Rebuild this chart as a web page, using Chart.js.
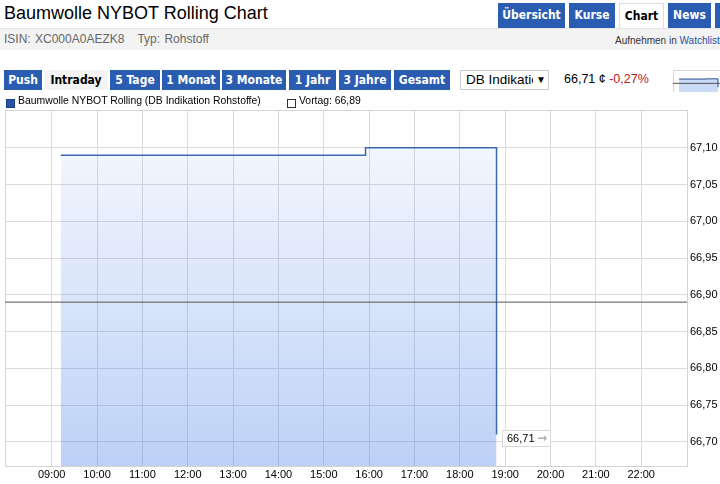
<!DOCTYPE html>
<html>
<head>
<meta charset="utf-8">
<script src="https://cdn.jsdelivr.net/npm/chart.js@4.4.0/dist/chart.umd.min.js"></script>
<style>
  body { margin:0; width:720px; height:484px; overflow:hidden; background:#fff; font-family:"Liberation Sans", Arial, sans-serif; position:relative; }
  .abs { position:absolute; }
  #title { left:4px; top:3px; font-size:18px; color:#000; }
  #infobar { left:0; top:28px; width:720px; height:21px; background:#f3f3f3; border-top:1px solid #e4e4e4; }
  #isin { left:4px; top:3px; font-size:12px; color:#666; word-spacing:1px; }
  #watch { left:615px; top:6px; font-size:10px; color:#333; white-space:nowrap; }
  #watch span { color:#1a55a8; }
  .tab, .btn { position:absolute; background:#2a5cb2; color:#fff; font-weight:bold; text-align:center; font-family:"DejaVu Sans Condensed","DejaVu Sans",sans-serif; }
  .tab { top:3px; height:25px; line-height:25px; font-size:12px; }
  .tab.on { background:#fff; color:#000; border:1px solid #ddd; border-bottom:none; box-sizing:border-box; }
  .btn { top:70px; height:20px; line-height:20px; font-size:12px; }
  .btn.on { background:#f4f4f4; color:#000; }
  #sel { left:460px; top:70px; width:89px; height:20px; box-sizing:border-box; border:1px solid #ccc; font-size:13.5px; line-height:18px; }
  #sel .t { position:absolute; left:5px; top:0; width:67px; overflow:hidden; white-space:nowrap; }
  #sel .a { position:absolute; left:75px; top:0; font-size:10px; }
  #price { left:564px; top:72px; font-size:12.5px; color:#000; white-space:nowrap; }
  #price span { color:#c0161a; }
  #legend { left:0; top:94px; font-size:10.4px; color:#000; white-space:nowrap; z-index:2; }
  .sq { position:absolute; top:5px; width:7px; height:7px; }
  #chartBox { left:0; top:100px; width:720px; height:384px; }
  #miniBox { left:673px; top:70px; width:47px; height:22px; }
</style>
</head>
<body>
<div id="title" class="abs">Baumwolle NYBOT Rolling Chart</div>
<div class="tab" style="left:498px;width:67px">Übersicht</div>
<div class="tab" style="left:569px;width:46px">Kurse</div>
<div class="tab on" style="left:619px;width:45px">Chart</div>
<div class="tab" style="left:668px;width:43px">News</div>
<div class="tab" style="left:715px;width:10px"></div>
<div id="infobar" class="abs">
  <div id="isin" class="abs">ISIN: XC000A0AEZK8&nbsp;&nbsp;&nbsp;Typ: Rohstoff</div>
  <div id="watch" class="abs">Aufnehmen in <span>Watchliste</span></div>
</div>

<div class="btn" style="left:4px;width:38px">Push</div>
<div class="btn on" style="left:44px;width:64px">Intraday</div>
<div class="btn" style="left:110px;width:50px">5 Tage</div>
<div class="btn" style="left:162px;width:58px">1 Monat</div>
<div class="btn" style="left:222px;width:64px">3 Monate</div>
<div class="btn" style="left:289px;width:47px">1 Jahr</div>
<div class="btn" style="left:339px;width:52px">3 Jahre</div>
<div class="btn" style="left:394px;width:56px">Gesamt</div>
<div id="sel" class="abs"><span class="t">DB Indikation</span><span class="a">&#9660;</span></div>
<div id="price" class="abs">66,71 ¢ <span>-0,27%</span></div>

<div id="legend" class="abs">
  <div class="sq" style="left:6px;background:#2a54a8;border:1px solid #1d3f85"></div>
  <div class="abs" style="left:18px;top:1px">Baumwolle NYBOT Rolling (DB Indikation Rohstoffe)</div>
  <div class="sq" style="left:287px;background:#fff;border:1px solid #333"></div>
  <div class="abs" style="left:299px;top:1px">Vortag: 66,89</div>
</div>

<div id="chartBox" class="abs"><canvas id="myChart"></canvas></div>
<div id="miniBox" class="abs"><canvas id="miniChart"></canvas></div>

<script>
// intraday quotes (hour of day, price in cents)
var zeit = [9.2, 15.92, 18.81];
var kurs = [67.09, 67.10, 66.71];
var vortag = 66.89;
var stunden = [9, 10, 11, 12, 13, 14, 15, 16, 17, 18, 19, 20, 21, 22];
var yTicks = [66.70, 66.75, 66.80, 66.85, 66.90, 66.95, 67.00, 67.05, 67.10];
var xMin = 7.97, xMax = 23.01;
var yMin = 66.667, yMax = 67.152;

function punkte() {
  var p = [];
  for (var i in zeit) p.push({x: zeit[i], y: kurs[i]});
  return p;
}
function komma(v) { return v.toFixed(2).replace('.', ','); }
function fuellung(context) {
  var area = context.chart.chartArea;
  if (!area) return 'rgba(60,120,230,0.2)';
  var g = context.chart.ctx.createLinearGradient(0, area.top, 0, area.bottom);
  g.addColorStop(0, 'rgba(60,120,230,0.03)');
  g.addColorStop(1, 'rgba(60,120,230,0.34)');
  return g;
}

var rahmen = {
  id: 'rahmen',
  beforeDatasetsDraw: function (chart) {
    var a = chart.chartArea, ctx = chart.ctx;
    ctx.save();
    ctx.strokeStyle = '#d4d4d4';
    ctx.lineWidth = 1;
    ctx.strokeRect(Math.round(a.left) + 0.5, Math.round(a.top) + 0.5, Math.round(a.right - a.left), Math.round(a.bottom - a.top));
    ctx.restore();
  }
};

var endLabel = {
  id: 'endLabel',
  afterDatasetsDraw: function (chart) {
    var meta = chart.getDatasetMeta(0);
    var pt = meta.data[meta.data.length - 1];
    var ctx = chart.ctx;
    var x = Math.round(pt.x) + 5, y = Math.round(pt.y) - 4;
    ctx.save();
    ctx.fillStyle = '#fff';
    ctx.strokeStyle = '#d8d8d8';
    ctx.fillRect(x, y, 48, 16);
    ctx.strokeRect(x + 0.5, y + 0.5, 48, 16);
    ctx.font = '11px "Liberation Sans", Arial';
    ctx.textBaseline = 'middle';
    ctx.fillStyle = '#000';
    ctx.fillText(komma(kurs[kurs.length - 1]), x + 5, y + 9);
    ctx.fillStyle = '#b0b0b0';
    ctx.font = 'bold 12px "DejaVu Sans", Arial';
    ctx.fillText('\u2192', x + 35, y + 9);
    ctx.restore();
  }
};

var graphTarget = document.getElementById('myChart');
var lineGraph = new Chart(graphTarget, {
  type: 'line',
  data: {
    datasets: [
      {
        label: 'Baumwolle NYBOT Rolling (DB Indikation Rohstoffe)',
        data: punkte(),
        borderColor: '#3d66ad',
        borderWidth: 1.5,
        stepped: 'before',
        fill: 'start',
        backgroundColor: fuellung,
        pointRadius: 0,
        order: 1
      },
      {
        label: 'Vortag',
        data: [{x: xMin, y: vortag}, {x: xMax, y: vortag}],
        borderColor: '#555',
        borderWidth: 1,
        pointRadius: 0,
        fill: false,
        order: 0
      }
    ]
  },
  options: {
    responsive: true,
    maintainAspectRatio: false,
    animation: false,
    layout: { padding: { left: 5, top: 9, right: 0, bottom: 0 } },
    plugins: { legend: { display: false }, tooltip: { enabled: false } },
    scales: {
      x: {
        type: 'linear',
        min: xMin,
        max: xMax,
        afterBuildTicks: function (scale) { scale.ticks = stunden.map(function (h) { return {value: h}; }); },
        afterFit: function (scale) { scale.height = 18; },
        grid: { color: '#dcdcdc', drawTicks: false },
        border: { display: false },
        ticks: {
          padding: 2,
          color: '#000',
          font: { family: '"Liberation Sans", Arial', size: 11 },
          maxRotation: 0,
          autoSkip: false,
          callback: function (v) { return (v < 10 ? '0' : '') + v + ':00'; }
        }
      },
      y: {
        position: 'right',
        min: yMin,
        max: yMax,
        afterBuildTicks: function (scale) { scale.ticks = yTicks.map(function (v) { return {value: v}; }); },
        afterFit: function (scale) { scale.width = 33; },
        grid: { color: '#dcdcdc', drawTicks: false },
        border: { display: false },
        ticks: {
          padding: 3,
          color: '#000',
          font: { family: '"Liberation Sans", Arial', size: 11 },
          callback: function (v) { return komma(v); }
        }
      }
    }
  },
  plugins: [rahmen, endLabel]
});

// small overview chart at the top right
var miniChart = new Chart(document.getElementById('miniChart'), {
  type: 'line',
  data: {
    datasets: [
      { data: punkte(), borderColor: '#2d4f92', borderWidth: 1, stepped: 'before', fill: 'start', backgroundColor: 'rgba(120,165,235,0.4)', pointRadius: 0, order: 1 },
      { data: [{x: 7.7, y: vortag}, {x: 19.3, y: vortag}], borderColor: '#555', borderWidth: 1, pointRadius: 0, order: 0 }
    ]
  },
  options: {
    responsive: true,
    maintainAspectRatio: false,
    animation: false,
    plugins: { legend: { display: false }, tooltip: { enabled: false } },
    scales: {
      x: { type: 'linear', min: 7.7, max: 19.3, display: false },
      y: { min: 66.49, max: 67.51, display: false }
    }
  },
  plugins: [rahmen]
});
</script>
</body>
</html>
